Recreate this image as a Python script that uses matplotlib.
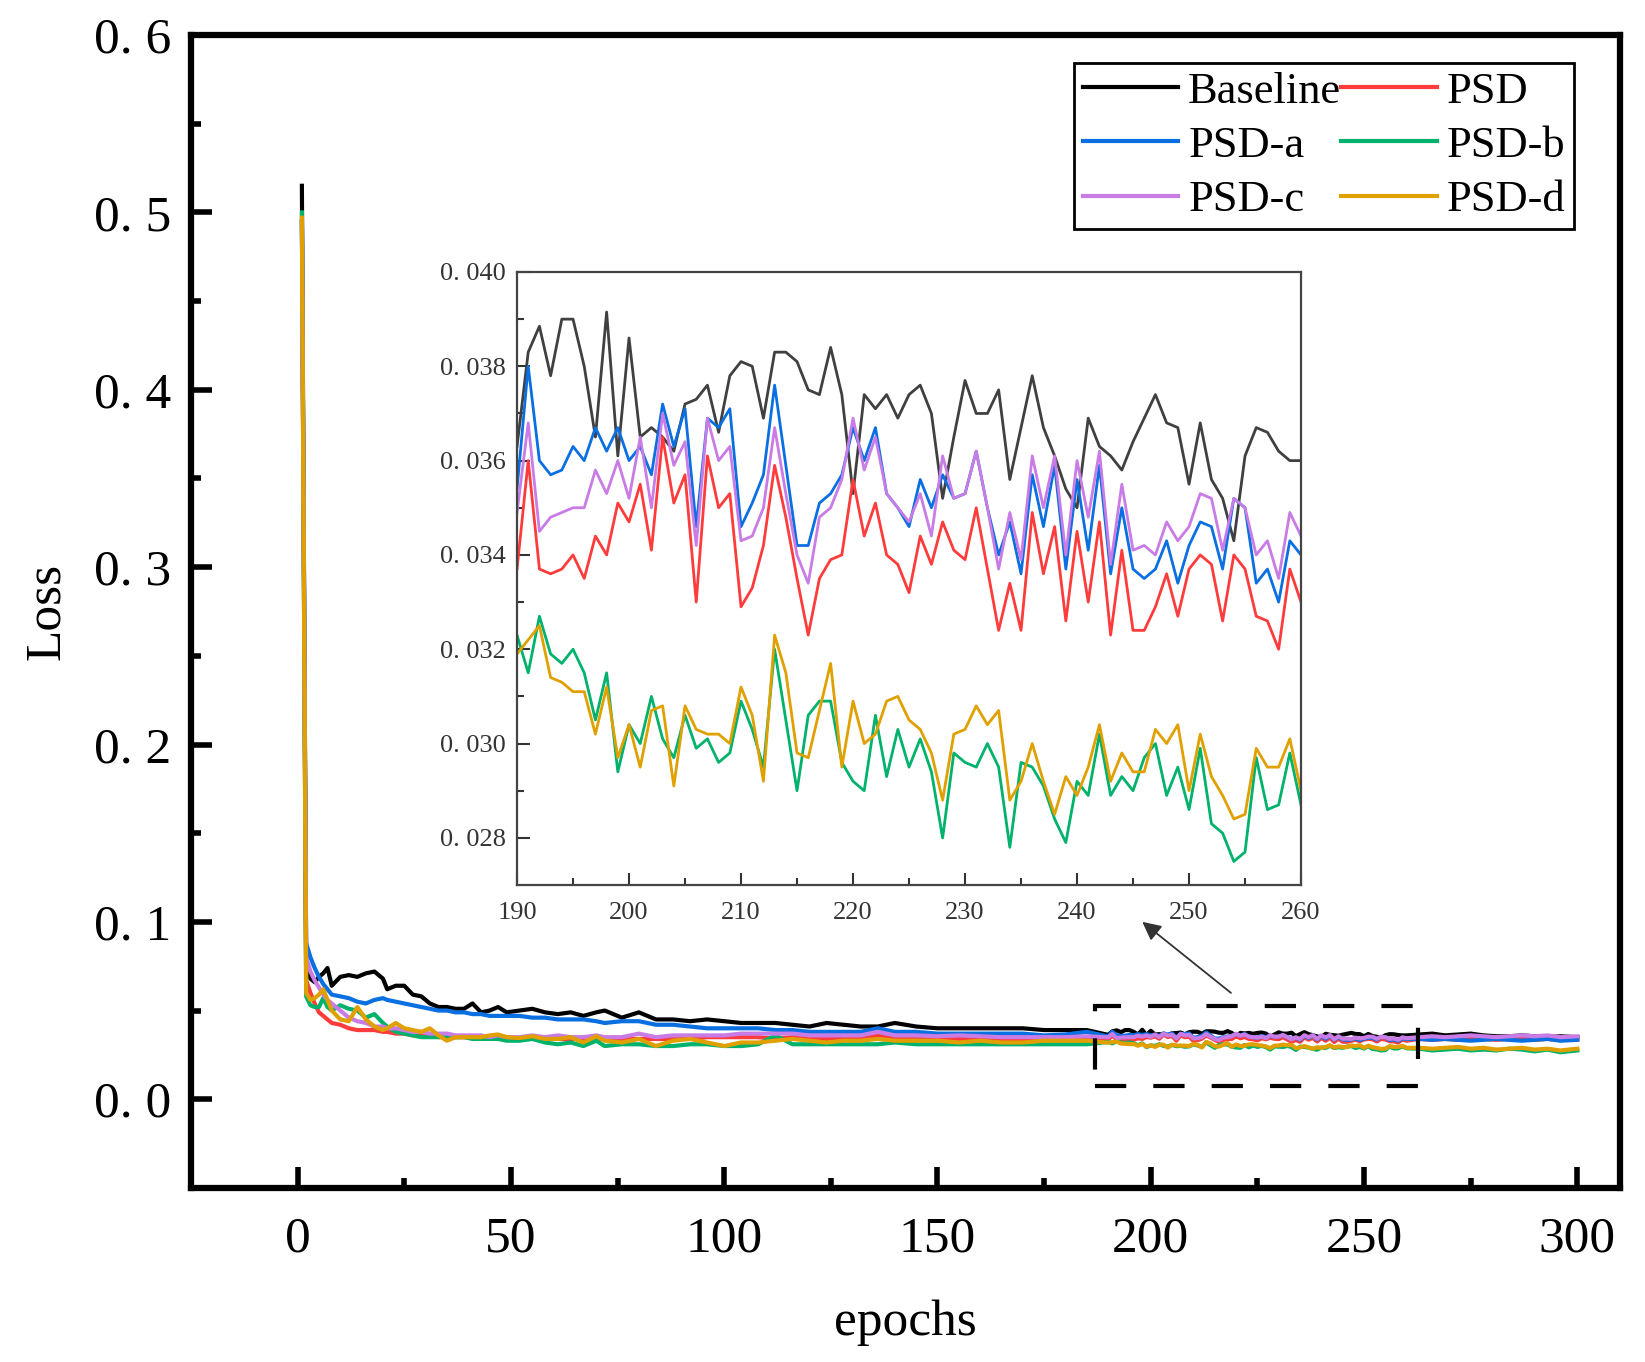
import numpy as np
import matplotlib
matplotlib.use('Agg')
import matplotlib.pyplot as plt
from matplotlib.patches import Rectangle

plt.rcParams['font.family'] = ['Liberation Serif', 'DejaVu Serif']

names = ['Baseline', 'PSD', 'PSD-a', 'PSD-b', 'PSD-c', 'PSD-d']
colors = ['#000000', '#ff3c3c', '#0a6fe0', '#00b26b', '#c97be6', '#e0a000']

# epochs (before and after the zoomed window)
pre_epochs = [1, 2, 3, 4, 5, 6, 7, 8, 10, 12, 14, 16, 18, 20, 21, 23, 25, 27, 29, 31,
              33, 35, 37, 39, 41, 43, 45, 47, 49, 52, 55, 58, 61, 64, 67, 70, 72, 76, 80, 84,
              88, 92, 96, 100, 104, 108, 112, 116, 120, 124, 128, 132, 136, 140, 145, 150, 155, 160, 165, 170,
              175, 180, 185]
zoom_epochs = list(range(190, 261))
post_epochs = [263, 266, 269, 272, 275, 278, 281, 284, 287, 290, 293, 296, 300]

baseline_pre = [0.515, 0.074, 0.068, 0.066, 0.069, 0.071, 0.074, 0.064, 0.069, 0.070, 0.069, 0.071, 0.072, 0.068, 0.062, 0.064, 0.064, 0.059, 0.058, 0.054,
                0.052, 0.052, 0.051, 0.051, 0.054, 0.049, 0.050, 0.052, 0.049, 0.050, 0.051, 0.049, 0.048, 0.049, 0.047, 0.049, 0.050, 0.046, 0.049, 0.045,
                0.045, 0.044, 0.045, 0.044, 0.043, 0.043, 0.043, 0.042, 0.041, 0.043, 0.042, 0.041, 0.041, 0.043, 0.041, 0.040, 0.040, 0.040, 0.040, 0.040,
                0.039, 0.039, 0.039]
psd_pre = [0.495, 0.067, 0.060, 0.054, 0.049, 0.047, 0.045, 0.043, 0.042, 0.040, 0.039, 0.039, 0.039, 0.038, 0.038, 0.037, 0.037, 0.036, 0.036, 0.036,
           0.035, 0.035, 0.035, 0.035, 0.035, 0.034, 0.035, 0.034, 0.034, 0.034, 0.034, 0.034, 0.034, 0.034, 0.034, 0.034, 0.034, 0.034, 0.034, 0.034,
           0.034, 0.034, 0.035, 0.035, 0.035, 0.035, 0.034, 0.035, 0.035, 0.034, 0.035, 0.035, 0.036, 0.035, 0.034, 0.035, 0.034, 0.034, 0.034, 0.034,
           0.034, 0.034, 0.034]
psda_pre = [0.495, 0.088, 0.080, 0.074, 0.069, 0.065, 0.062, 0.059, 0.058, 0.057, 0.055, 0.054, 0.056, 0.057, 0.056, 0.055, 0.054, 0.053, 0.052, 0.051,
            0.050, 0.050, 0.049, 0.049, 0.048, 0.048, 0.047, 0.047, 0.047, 0.047, 0.046, 0.046, 0.045, 0.045, 0.045, 0.044, 0.043, 0.044, 0.044, 0.042,
            0.042, 0.041, 0.040, 0.040, 0.040, 0.040, 0.039, 0.039, 0.038, 0.038, 0.038, 0.038, 0.040, 0.038, 0.038, 0.037, 0.037, 0.037, 0.037, 0.037,
            0.036, 0.0365, 0.038]
psdb_pre = [0.500, 0.058, 0.053, 0.052, 0.052, 0.057, 0.052, 0.050, 0.053, 0.051, 0.050, 0.046, 0.048, 0.043, 0.041, 0.038, 0.037, 0.036, 0.035, 0.035,
            0.035, 0.0355, 0.035, 0.035, 0.034, 0.034, 0.034, 0.034, 0.033, 0.033, 0.034, 0.032, 0.031, 0.032, 0.030, 0.033, 0.030, 0.031, 0.031, 0.030,
            0.030, 0.031, 0.031, 0.030, 0.030, 0.031, 0.036, 0.031, 0.031, 0.031, 0.031, 0.031, 0.031, 0.032, 0.031, 0.031, 0.031, 0.031, 0.031, 0.031,
            0.031, 0.031, 0.031]
psdc_pre = [0.495, 0.080, 0.072, 0.067, 0.063, 0.059, 0.056, 0.054, 0.050, 0.046, 0.044, 0.043, 0.041, 0.041, 0.040, 0.040, 0.039, 0.038, 0.038, 0.037,
            0.037, 0.037, 0.036, 0.036, 0.036, 0.036, 0.035, 0.036, 0.035, 0.035, 0.036, 0.035, 0.036, 0.035, 0.035, 0.036, 0.035, 0.035, 0.037, 0.035,
            0.036, 0.036, 0.036, 0.036, 0.037, 0.037, 0.037, 0.037, 0.036, 0.036, 0.036, 0.036, 0.038, 0.036, 0.036, 0.0355, 0.036, 0.0355, 0.035, 0.035,
            0.035, 0.035, 0.0355]
psdd_pre = [0.497, 0.060, 0.056, 0.057, 0.059, 0.062, 0.056, 0.050, 0.045, 0.044, 0.052, 0.045, 0.041, 0.039, 0.040, 0.043, 0.040, 0.039, 0.038, 0.040,
            0.036, 0.033, 0.035, 0.035, 0.035, 0.035, 0.036, 0.0365, 0.035, 0.0345, 0.0355, 0.034, 0.034, 0.035, 0.032, 0.0355, 0.033, 0.032, 0.034, 0.030,
            0.033, 0.034, 0.032, 0.030, 0.032, 0.032, 0.033, 0.034, 0.033, 0.032, 0.033, 0.033, 0.034, 0.033, 0.033, 0.033, 0.032, 0.033, 0.032, 0.032,
            0.033, 0.033, 0.033]

# epochs 190-260
baseline_zoom = [0.0363, 0.0383, 0.03885, 0.0378, 0.0390, 0.0390, 0.0380, 0.0365, 0.03915, 0.0361,
                 0.0386, 0.0365, 0.0367, 0.0365, 0.0362, 0.0372, 0.0373, 0.0376, 0.0366, 0.0378,
                 0.0381, 0.0380, 0.0369, 0.0383, 0.0383, 0.0381, 0.0375, 0.0374, 0.0384, 0.0374,
                 0.0353, 0.0374, 0.0371, 0.0374, 0.0369, 0.0374, 0.0376, 0.0370, 0.0352, 0.0365,
                 0.0377, 0.0370, 0.0370, 0.0375, 0.0356, 0.0367, 0.0378, 0.0367, 0.0361, 0.0354,
                 0.0350, 0.0369, 0.0363, 0.0361, 0.0358, 0.0364, 0.0369, 0.0374, 0.0368, 0.0367,
                 0.0355, 0.0368, 0.0356, 0.0352, 0.0343, 0.0361, 0.0367, 0.0366, 0.0362, 0.0360,
                 0.0360]
psd_zoom = [0.0337, 0.0360, 0.0337, 0.0336, 0.0337, 0.0340, 0.0335, 0.0344, 0.0340, 0.0351,
            0.0347, 0.0355, 0.0341, 0.0365, 0.0351, 0.0357, 0.0330, 0.0361, 0.0350, 0.0353,
            0.0329, 0.0333, 0.0342, 0.0359, 0.0348, 0.0335, 0.0323, 0.0335, 0.0339, 0.0340,
            0.0356, 0.0344, 0.0351, 0.0340, 0.0338, 0.0332, 0.0344, 0.0338, 0.0347, 0.0341,
            0.0339, 0.0350, 0.0337, 0.0324, 0.0334, 0.0324, 0.0349, 0.0336, 0.0346, 0.0326,
            0.0345, 0.0330, 0.0347, 0.0323, 0.0341, 0.0324, 0.0324, 0.0329, 0.0336, 0.0327,
            0.0337, 0.0340, 0.0338, 0.0326, 0.0340, 0.0337, 0.0327, 0.0326, 0.0320, 0.0337,
            0.0330]
psda_zoom = [0.0354, 0.0380, 0.0360, 0.0357, 0.0358, 0.0363, 0.0360, 0.0367, 0.0362, 0.0367,
             0.0360, 0.0363, 0.0357, 0.0372, 0.0363, 0.0371, 0.0346, 0.0369, 0.0367, 0.0371,
             0.0346, 0.0351, 0.0357, 0.0376, 0.0359, 0.0342, 0.0342, 0.0351, 0.0353, 0.0357,
             0.0367, 0.0360, 0.0367, 0.0353, 0.0350, 0.0346, 0.0356, 0.0350, 0.0357, 0.0352,
             0.0353, 0.0362, 0.0350, 0.0340, 0.0347, 0.0336, 0.0357, 0.0346, 0.0359, 0.0337,
             0.0356, 0.0341, 0.0359, 0.0336, 0.0350, 0.0337, 0.0335, 0.0337, 0.0343, 0.0334,
             0.0342, 0.0347, 0.0346, 0.0337, 0.0352, 0.0350, 0.0334, 0.0337, 0.0330, 0.0343,
             0.0340]
psdb_zoom = [0.0323, 0.0315, 0.0327, 0.0319, 0.0317, 0.0320, 0.0315, 0.0305, 0.0315, 0.0294,
             0.0304, 0.0300, 0.0310, 0.0301, 0.0297, 0.0306, 0.0299, 0.0301, 0.0296, 0.0298,
             0.0309, 0.0303, 0.0295, 0.0320, 0.0305, 0.0290, 0.0306, 0.0309, 0.0309, 0.0296,
             0.0292, 0.0290, 0.0306, 0.0293, 0.0303, 0.0295, 0.0301, 0.0294, 0.0280, 0.0298,
             0.0296, 0.0295, 0.0300, 0.0295, 0.0278, 0.0296, 0.0295, 0.0291, 0.0284, 0.0279,
             0.0292, 0.0289, 0.0302, 0.0289, 0.0293, 0.0290, 0.0297, 0.0300, 0.0289, 0.0295,
             0.0286, 0.0299, 0.0283, 0.0281, 0.0275, 0.0277, 0.0297, 0.0286, 0.0287, 0.0298,
             0.0287]
psdc_zoom = [0.0349, 0.0368, 0.0345, 0.0348, 0.0349, 0.0350, 0.0350, 0.0358, 0.0353, 0.0360,
             0.0352, 0.0365, 0.0350, 0.0370, 0.0359, 0.0364, 0.0342, 0.0369, 0.0360, 0.0363,
             0.0343, 0.0344, 0.0350, 0.0367, 0.0353, 0.0340, 0.0334, 0.0348, 0.0350, 0.0356,
             0.0369, 0.0358, 0.0365, 0.0353, 0.0350, 0.0347, 0.0353, 0.0344, 0.0361, 0.0352,
             0.0353, 0.0362, 0.0350, 0.0337, 0.0349, 0.0339, 0.0361, 0.0350, 0.0361, 0.0340,
             0.0360, 0.0348, 0.0362, 0.0338, 0.0355, 0.0341, 0.0342, 0.0340, 0.0347, 0.0343,
             0.0346, 0.0353, 0.0352, 0.0341, 0.0352, 0.0350, 0.0340, 0.0343, 0.0335, 0.0349,
             0.0344]
psdd_zoom = [0.0319, 0.0322, 0.0325, 0.0314, 0.0313, 0.0311, 0.0311, 0.0302, 0.0312, 0.0297,
             0.0304, 0.0295, 0.0307, 0.0308, 0.0291, 0.0308, 0.0303, 0.0302, 0.0302, 0.0300,
             0.0312, 0.0306, 0.0292, 0.0323, 0.0315, 0.0298, 0.0297, 0.0307, 0.0317, 0.0295,
             0.0309, 0.0300, 0.0302, 0.0309, 0.0310, 0.0305, 0.0303, 0.0298, 0.0288, 0.0302,
             0.0303, 0.0308, 0.0304, 0.0307, 0.0288, 0.0292, 0.0300, 0.0292, 0.0285, 0.0293,
             0.0289, 0.0295, 0.0304, 0.0292, 0.0298, 0.0294, 0.0294, 0.0303, 0.0300, 0.0304,
             0.0290, 0.0302, 0.0293, 0.0289, 0.0284, 0.0285, 0.0299, 0.0295, 0.0295, 0.0301,
             0.0290]

baseline_post = [0.0365, 0.037, 0.036, 0.0365, 0.037, 0.036, 0.0355, 0.0355, 0.036, 0.0355, 0.035, 0.0355, 0.035]
psd_post = [0.034, 0.0335, 0.034, 0.0335, 0.034, 0.034, 0.0335, 0.034, 0.034, 0.0335, 0.034, 0.0335, 0.034]
psda_post = [0.034, 0.0335, 0.034, 0.0335, 0.033, 0.0335, 0.034, 0.0335, 0.033, 0.0335, 0.034, 0.033, 0.0335]
psdb_post = [0.0285, 0.0275, 0.028, 0.0285, 0.0275, 0.028, 0.0275, 0.0285, 0.028, 0.027, 0.028, 0.0265, 0.0275]
psdc_post = [0.035, 0.0355, 0.035, 0.0355, 0.036, 0.0355, 0.035, 0.0355, 0.036, 0.0355, 0.036, 0.035, 0.0355]
psdd_post = [0.029, 0.0285, 0.029, 0.0295, 0.0285, 0.029, 0.028, 0.0285, 0.029, 0.028, 0.0285, 0.0275, 0.0285]

pre = [baseline_pre, psd_pre, psda_pre, psdb_pre, psdc_pre, psdd_pre]
zoom = [baseline_zoom, psd_zoom, psda_zoom, psdb_zoom, psdc_zoom, psdd_zoom]
post = [baseline_post, psd_post, psda_post, psdb_post, psdc_post, psdd_post]

main_epochs = pre_epochs + zoom_epochs + post_epochs

y_ticks = [0.0, 0.1, 0.2, 0.3, 0.4, 0.5, 0.6]
y_labels = ['0. 0', '0. 1', '0. 2', '0. 3', '0. 4', '0. 5', '0. 6']
x_ticks = [0, 50, 100, 150, 200, 250, 300]
in_y_ticks = [0.028, 0.030, 0.032, 0.034, 0.036, 0.038, 0.040]
in_y_labels = ['0. 028', '0. 030', '0. 032', '0. 034', '0. 036', '0. 038', '0. 040']
in_x_ticks = [190, 200, 210, 220, 230, 240, 250, 260]

fig = plt.figure(figsize=(16.45, 13.62), dpi=100)
ax = fig.add_axes([0.1161, 0.1278, 0.8687, 0.8465])

handles = []
for i in range(len(names)):
    h, = ax.plot(main_epochs, pre[i] + zoom[i] + post[i], color=colors[i], lw=3.0, label=names[i])
    handles.append(h)

ax.set_xlim(-25, 310)
ax.set_ylim(-0.05, 0.6)
ax.set_xticks(x_ticks)
ax.set_xticklabels([str(t) for t in x_ticks])
ax.set_xticks([25, 75, 125, 175, 225, 275], minor=True)
ax.set_yticks(y_ticks)
ax.set_yticklabels(y_labels)
ax.set_yticks([0.05, 0.15, 0.25, 0.35, 0.45, 0.55], minor=True)
ax.tick_params(which='major', direction='in', length=15, width=4, labelsize=37)
ax.tick_params(which='minor', direction='in', length=7, width=4)
ax.tick_params(axis='y', which='major', pad=14)
ax.tick_params(axis='x', which='major', pad=20)
for s in ax.spines.values():
    s.set_linewidth(4.5)

ax.set_ylabel('Loss', fontsize=37)
ax.yaxis.set_label_coords(-0.085, 0.5)
ax.set_xlabel('epochs', fontsize=37)
ax.xaxis.set_label_coords(0.5, -0.097)

# row-wise legend order: Baseline PSD / PSD-a PSD-b / PSD-c PSD-d
order = [0, 2, 4, 1, 3, 5]
leg = ax.legend([handles[k] for k in order], [names[k] for k in order], ncol=2,
                loc='upper right', bbox_to_anchor=(0.968, 0.976), fontsize=32,
                frameon=True, fancybox=False, framealpha=1, edgecolor='black',
                handlelength=2.15, handletextpad=0.22, columnspacing=0.0,
                labelspacing=0.32, borderpad=0.2, borderaxespad=0)
leg.get_frame().set_linewidth(2)

# dashed box marking the zoomed window and the arrow pointing to the inset
ax.add_patch(Rectangle((187, 0.0075), 75.7, 0.0448, fill=False, ec='black', lw=3,
                       ls=(0, (7.5, 6.5)), zorder=5))
ax.annotate('', xy=(197.5, 0.101), xytext=(219.3, 0.059),
            arrowprops=dict(arrowstyle='-|>', color='#333333', lw=1.3, mutation_scale=28))

axins = fig.add_axes([0.3143, 0.3502, 0.4766, 0.4501])
for i in range(len(names)):
    c = '#404040' if i == 0 else colors[i]
    axins.plot(zoom_epochs, zoom[i], color=c, lw=2)
axins.set_xlim(190, 260)
axins.set_ylim(0.027, 0.040)
axins.set_xticks(in_x_ticks)
axins.set_xticklabels([str(t) for t in in_x_ticks])
axins.set_xticks([195, 205, 215, 225, 235, 245, 255], minor=True)
axins.set_yticks(in_y_ticks)
axins.set_yticklabels(in_y_labels)
axins.set_yticks([0.029, 0.031, 0.033, 0.035, 0.037, 0.039], minor=True)
axins.tick_params(which='major', direction='in', length=9, width=1.5, labelsize=19,
                  colors='#333333', pad=8)
axins.tick_params(axis='x', which='major', pad=12)
axins.tick_params(which='minor', direction='in', length=5, width=1.5, colors='#333333')
for s in axins.spines.values():
    s.set_linewidth(1.6)
    s.set_color('#444444')

fig.savefig('out.png', dpi=100)
